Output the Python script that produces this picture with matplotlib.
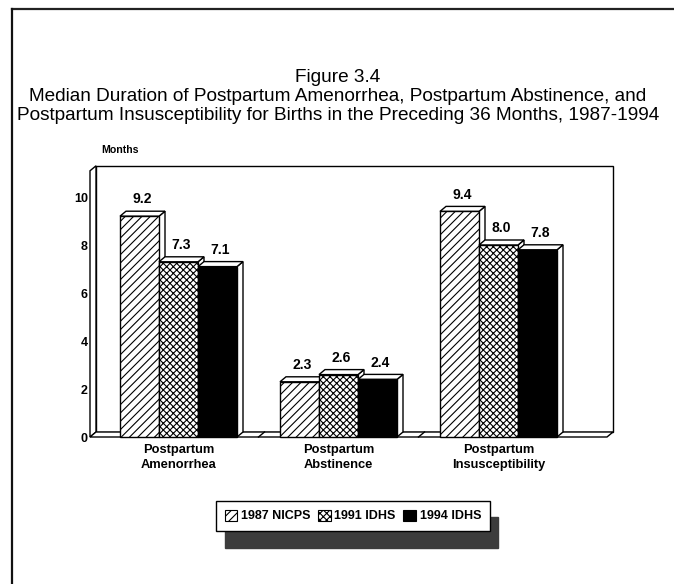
import matplotlib
matplotlib.use("Agg")
import matplotlib.pyplot as plt
from matplotlib.patches import Polygon, Rectangle, Patch
from matplotlib.lines import Line2D

plt.rcParams['font.family'] = ['Liberation Sans', 'DejaVu Sans']
plt.rcParams['hatch.linewidth'] = 0.8

categories = ["Postpartum\nAmenorrhea", "Postpartum\nAbstinence", "Postpartum\nInsusceptibility"]
series_names = ["1987 NICPS", "1991 IDHS", "1994 IDHS"]
v1987 = [9.2, 2.3, 9.4]
v1991 = [7.3, 2.6, 8.0]
v1994 = [7.1, 2.4, 7.8]
yticks = [0, 2, 4, 6, 8, 10]
title_lines = ["Figure 3.4",
               "Median Duration of Postpartum Amenorrhea, Postpartum Abstinence, and",
               "Postpartum Insusceptibility for Births in the Preceding 36 Months, 1987-1994"]

series = [v1987, v1991, v1994]
styles = [dict(facecolor='white', hatch='////'),
          dict(facecolor='white', hatch='xxxxx'),
          dict(facecolor='black', hatch=None)]

W, H = 674, 584
fig = plt.figure(figsize=(W / 100, H / 100), dpi=100)

# geometry (pixels -> figure fraction)
catw = 160.0
c0 = 178.5
dxp, dyp = 6.0, 5.0
px_left, px_right = 90.0, 607.0
py_zero = 437.0
ppu = 24.0
ytop_back = 11.3
dx = dxp / catw
dy = dyp / ppu
xmin = (px_left - c0) / catw
xmax = (px_right - c0) / catw
ax_w = (xmax + dx - xmin) * catw
ax_h = ytop_back * ppu
ax = fig.add_axes([px_left / W, (H - py_zero) / H, ax_w / W, ax_h / H])
ax.set_xlim(xmin, xmax + dx)
ax.set_ylim(0, ytop_back)
for s in ax.spines.values():
    s.set_visible(False)

lw = 1.0
ytop_front = ytop_back - dy
# back wall
ax.add_patch(Rectangle((xmin + dx, dy), xmax - xmin, ytop_back - dy, facecolor='white',
                       edgecolor='black', lw=lw, clip_on=False, zorder=1))
# left wall
ax.add_patch(Polygon([(xmin, 0), (xmin, ytop_front), (xmin + dx, ytop_back), (xmin + dx, dy)],
                     closed=True, facecolor='white', edgecolor='black', lw=lw, clip_on=False, zorder=1.5))
# floor
ax.add_patch(Polygon([(xmin, 0), (xmax, 0), (xmax + dx, dy), (xmin + dx, dy)],
                     closed=True, facecolor='white', edgecolor='black', lw=lw, clip_on=False, zorder=2))
for b in [0.5, 1.5]:
    ax.plot([b, b + dx], [0, dy], color='black', lw=lw, clip_on=False, zorder=2.1)

bw = 39.0 / catw
z = 3
for ci in range(len(categories)):
    for si, vals in enumerate(series):
        v = vals[ci]
        x0 = ci + (si - 1.5) * bw
        x1 = x0 + bw
        st = styles[si]
        # side face
        ax.add_patch(Polygon([(x1, 0), (x1, v), (x1 + dx, v + dy), (x1 + dx, dy)], closed=True,
                             facecolor='white', edgecolor='black', lw=lw, clip_on=False, zorder=z))
        # top face
        ax.add_patch(Polygon([(x0, v), (x1, v), (x1 + dx, v + dy), (x0 + dx, v + dy)], closed=True,
                             facecolor='white', edgecolor='black', lw=lw, clip_on=False, zorder=z))
        # front face
        ax.add_patch(Rectangle((x0, 0), bw, v, facecolor=st['facecolor'], hatch=st['hatch'],
                               edgecolor='black', lw=lw, clip_on=False, zorder=z + 0.1))
        ax.text(x0 + bw / 2 + dx / 2, v + dy + 0.2, f"{v:.1f}", ha='center', va='bottom',
                fontsize=10, fontweight='bold', zorder=10)
        z += 1

ax.set_yticks(yticks)
ax.set_yticklabels([str(t) for t in yticks], fontsize=9, fontweight='bold')
ax.tick_params(axis='y', length=0, pad=1.5)
ax.set_xticks(range(len(categories)))
ax.set_xticklabels(categories, fontsize=9.3, fontweight='bold', linespacing=1.35)
ax.tick_params(axis='x', length=0, pad=5)

fig.text(101 / W, 1 - 150 / H, "Months", fontsize=7.6, fontweight='bold', va='center', ha='left')

ty = [77, 97, 116]
for t, y in zip(title_lines, ty):
    fig.text(338 / W, 1 - y / H, t, fontsize=13.7, ha='center', va='center')

# border
fig.add_artist(Line2D([12 / W, 1], [1 - 9 / H, 1 - 9 / H], color='#222222', lw=1.6))
fig.add_artist(Line2D([12 / W, 12 / W], [1 - 9 / H, 0], color='#111111', lw=1.6))

handles = [Patch(facecolor=s['facecolor'], hatch=s['hatch'], edgecolor='black', lw=0.8) for s in styles]
leg = fig.legend(handles, series_names, loc='center', bbox_to_anchor=(353 / W, 1 - 516 / H),
                 ncol=3, frameon=True, fancybox=False, handlelength=1.0, handleheight=1.0,
                 handletextpad=0.3, columnspacing=0.6, borderpad=0.7,
                 prop=dict(size=9, weight='bold'),
                 shadow=dict(ox=6, oy=-12, facecolor='#3c3c3c', edgecolor='#3c3c3c', alpha=1))
leg.get_frame().set_edgecolor('black')
leg.get_frame().set_linewidth(1.0)

fig.savefig("out.png", dpi=100)
